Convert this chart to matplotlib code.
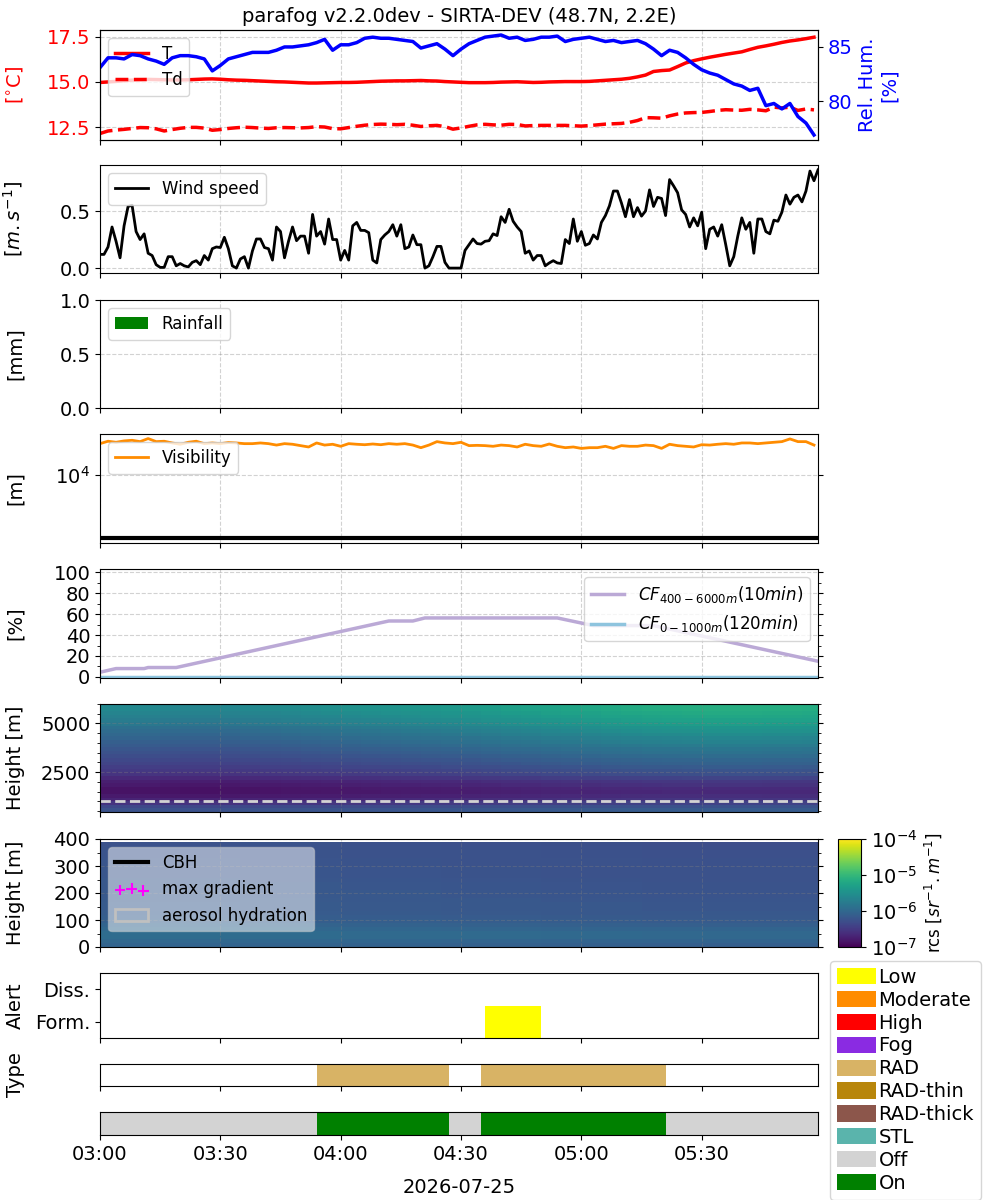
import numpy as np
import pandas as pd
import matplotlib
matplotlib.use("Agg")
import matplotlib.pyplot as plt
import matplotlib.dates as mdates
from matplotlib.colors import LogNorm
from matplotlib.patches import Patch
from matplotlib.ticker import MultipleLocator, NullLocator

# ---------------------------------------------------------------- data
day = "2026-07-25"
start = pd.Timestamp(day + " 03:00")

# 2-min sampled station data
temp = [14.97, 15.0, 15.03, 15.07, 15.1, 15.12, 15.14, 15.13, 15.12, 15.11,
        15.11, 15.12, 15.14, 15.16, 15.17, 15.15, 15.12, 15.1, 15.09, 15.07,
        15.05, 15.03, 15.01, 15.0, 14.98, 14.96, 14.94, 14.94, 14.95, 14.96,
        14.97, 14.97, 14.98, 15.0, 15.02, 15.04, 15.05, 15.06, 15.06, 15.07,
        15.08, 15.06, 15.05, 15.02, 15.0, 14.98, 14.96, 14.96, 14.96, 14.97,
        14.99, 15.0, 15.01, 14.99, 14.97, 14.98, 15.0, 15.01, 15.02, 15.02,
        15.02, 15.03, 15.06, 15.09, 15.12, 15.15, 15.2, 15.28, 15.38, 15.58,
        15.63, 15.66, 15.85, 16.05, 16.18, 16.28, 16.37, 16.45, 16.53, 16.6,
        16.67, 16.8, 16.92, 17.0, 17.09, 17.19, 17.27, 17.33, 17.4, 17.48]
dewp = [12.14, 12.28, 12.33, 12.37, 12.42, 12.47, 12.46, 12.4, 12.28, 12.36,
        12.43, 12.48, 12.48, 12.44, 12.32, 12.36, 12.42, 12.46, 12.49, 12.47,
        12.44, 12.42, 12.46, 12.47, 12.46, 12.45, 12.47, 12.52, 12.5, 12.41,
        12.4, 12.47, 12.54, 12.6, 12.64, 12.66, 12.65, 12.63, 12.65, 12.6,
        12.53, 12.57, 12.59, 12.52, 12.38, 12.45, 12.54, 12.62, 12.65, 12.62,
        12.6, 12.65, 12.64, 12.56, 12.58, 12.59, 12.59, 12.59, 12.59, 12.57,
        12.55, 12.58, 12.62, 12.66, 12.68, 12.7, 12.76, 12.86, 13.02, 13.01,
        12.99, 13.12, 13.22, 13.28, 13.3, 13.31, 13.36, 13.42, 13.46, 13.44,
        13.43, 13.48, 13.45, 13.4, 13.6, 13.56, 13.6, 13.42, 13.5, 13.45]
rh = [83.1, 84.0, 84.0, 83.9, 84.3, 84.2, 83.9, 83.7, 83.4, 84.0,
      84.2, 84.2, 84.1, 83.9, 82.8, 83.3, 83.9, 84.1, 84.3, 84.5,
      84.5, 84.5, 84.7, 85.0, 85.0, 85.1, 85.2, 85.4, 85.7, 84.7,
      85.2, 85.2, 85.4, 85.8, 85.9, 85.8, 85.8, 85.7, 85.6, 85.5,
      84.9, 85.1, 85.3, 84.8, 84.2, 84.8, 85.3, 85.6, 85.9, 86.0,
      86.1, 85.8, 85.9, 85.6, 85.7, 85.9, 85.9, 86.0, 85.5, 85.7,
      85.8, 85.9, 85.7, 85.5, 85.6, 85.4, 85.5, 85.6, 85.3, 84.8,
      84.2, 84.7, 84.5, 84.0, 83.4, 82.9, 82.6, 82.4, 82.0, 81.6,
      81.4, 81.0, 81.2, 79.6, 79.8, 79.3, 79.8, 78.6, 78.0, 76.9]
visibility = [31400, 34300, 33000, 34700, 35500, 33800, 37800, 33800, 34300, 32200,
              30700, 33000, 34300, 31400, 32200, 31400, 32700, 32200, 31400, 31400,
              32200, 31400, 29800, 31400, 30700, 29200, 27800, 32200, 29800, 30700,
              28500, 31400, 30700, 30200, 31000, 30200, 31400, 30700, 31400, 29800,
              27100, 29800, 33800, 32200, 31400, 33000, 29200, 29500, 29200, 28500,
              29800, 29200, 27800, 30700, 29200, 28500, 31000, 28500, 27100, 27800,
              26400, 27100, 27100, 28500, 26400, 29200, 28500, 28500, 29800, 29200,
              26400, 30700, 29200, 28500, 27800, 30200, 29800, 30700, 31400, 30700,
              32200, 32200, 31400, 32200, 33000, 33800, 37300, 33800, 33800, 29800]
vis_threshold = 1000

# 1-min wind speed
wind = [0.12, 0.12, 0.185, 0.36, 0.235, 0.09, 0.37, 0.54, 0.55, 0.32,
        0.25, 0.30, 0.13, 0.11, 0.03, 0.006, 0.006, 0.10, 0.10, 0.02,
        0.04, 0.02, 0.01, 0.05, 0.065, 0.03, 0.11, 0.07, 0.17, 0.185,
        0.18, 0.27, 0.17, 0.02, 0.0, 0.08, 0.10, 0.0, 0.15, 0.255,
        0.255, 0.18, 0.17, 0.07, 0.36, 0.32, 0.09, 0.235, 0.36, 0.24,
        0.28, 0.28, 0.13, 0.47, 0.28, 0.32, 0.21, 0.43, 0.25, 0.25,
        0.07, 0.155, 0.07, 0.37, 0.40, 0.33, 0.33, 0.31, 0.07, 0.045,
        0.25, 0.29, 0.32, 0.38, 0.28, 0.38, 0.17, 0.185, 0.29, 0.205,
        0.205, 0.0, 0.02, 0.10, 0.19, 0.19, 0.05, 0.0, 0.0, 0.0,
        0.0, 0.155, 0.205, 0.255, 0.215, 0.21, 0.235, 0.24, 0.30, 0.285,
        0.45, 0.40, 0.515, 0.41, 0.36, 0.32, 0.13, 0.15, 0.07, 0.11,
        0.11, 0.02, 0.045, 0.065, 0.045, 0.04, 0.25, 0.215, 0.43, 0.235,
        0.32, 0.20, 0.215, 0.29, 0.255, 0.40, 0.46, 0.545, 0.675, 0.675,
        0.57, 0.45, 0.60, 0.45, 0.53, 0.455, 0.50, 0.685, 0.54, 0.62,
        0.61, 0.46, 0.775, 0.72, 0.66, 0.51, 0.47, 0.36, 0.44, 0.37,
        0.49, 0.17, 0.34, 0.36, 0.28, 0.38, 0.205, 0.02, 0.10, 0.28,
        0.44, 0.34, 0.40, 0.13, 0.43, 0.43, 0.32, 0.30, 0.42, 0.41,
        0.49, 0.64, 0.56, 0.62, 0.64, 0.58, 0.675, 0.85, 0.765, 0.86]
rainfall = [0.0] * len(wind)

# cloud fraction
cf_times = ["03:00", "03:04", "03:11", "03:12", "03:19", "04:12",
            "04:18", "04:21", "04:54", "05:03", "05:18", "05:59"]
cf_high = [4.5, 8, 8, 9, 9, 53.4, 53.4, 56.3, 56.3, 49, 49, 15]
cf_low = [0, 0, 0, 0, 0, 0, 0, 0, 0, 0, 0, 0]

# ceilometer rcs, log10 values: height profile + time trend (5-min columns)
hi_bottom, hi_top, hi_step = 450, 6000, 185
hi_profile = [-6.25, -6.35, -6.55, -6.7, -6.8, -6.85, -6.85, -6.8, -6.75, -6.65,
              -6.55, -6.5, -6.45, -6.4, -6.35, -6.3, -6.25, -6.2, -6.15, -6.1,
              -6.05, -6.0, -5.95, -5.9, -5.8, -5.75, -5.7, -5.65, -5.6, -5.6]
hi_weight = [0.2, 0.2, 0.3, 0.35, 0.4, 0.4, 0.45, 0.5, 0.5, 0.55,
             0.6, 0.6, 0.65, 0.7, 0.7, 0.75, 0.8, 0.8, 0.85, 0.9,
             0.9, 0.95, 1, 1, 1, 1, 1, 1, 1, 1]
hi_trend = [0.0, 0.0, 0.0, -0.02, -0.03, -0.03, -0.02, 0.0, 0.02, 0.04,
            0.06, 0.08, 0.1, 0.12, 0.14, 0.16, 0.18, 0.2, 0.22, 0.25,
            0.28, 0.3, 0.33, 0.35, 0.37, 0.4, 0.42, 0.44, 0.45, 0.46,
            0.47, 0.47, 0.47, 0.46, 0.46, 0.45]
lo_top, lo_step = 390, 15
lo_profile = [-6.05, -6.0, -5.95, -5.95, -6.0, -6.05, -6.1, -6.12, -6.14, -6.15,
              -6.15, -6.16, -6.17, -6.17, -6.18, -6.18, -6.19, -6.2, -6.2, -6.2,
              -6.21, -6.21, -6.22, -6.22, -6.23, -6.24]
lo_trend = [0.0, 0.0, 0.0, 0.0, 0.0, 0.0, 0.0, -0.01, -0.01, -0.01,
            -0.01, -0.01, -0.02, -0.02, -0.02, -0.02, -0.02, -0.03, -0.03, -0.03,
            -0.03, -0.03, -0.04, -0.04, -0.04, -0.04, -0.04, -0.05, -0.05, -0.05,
            -0.05, -0.05, -0.05, -0.05, -0.05, -0.05]
cf_low_top = 1000

# alerts / fog type / state
alert_spans = [("04:36", "04:50", "Low", 0)]
type_spans = [("03:54", "04:27", "RAD"), ("04:35", "05:21", "RAD")]
state_spans = [("03:00", "03:54", "Off"), ("03:54", "04:27", "On"),
               ("04:27", "04:35", "Off"), ("04:35", "05:21", "On"),
               ("05:21", "05:59", "Off")]

status_names = ["Low", "Moderate", "High", "Fog", "RAD", "RAD-thin",
                "RAD-thick", "STL", "Off", "On"]
status_colors = ["yellow", "darkorange", "red", "blueviolet", "#d8b365",
                 "darkgoldenrod", "#8c564b", "#5ab4ac", "lightgrey", "green"]
color_of = dict(zip(status_names, status_colors))

# ---------------------------------------------------------------- helpers
def at(hhmm):
    return mdates.date2num(pd.Timestamp(day + " " + hhmm).to_pydatetime())

t2 = pd.date_range(start, periods=len(rh), freq="2min").to_pydatetime()
t1 = pd.date_range(start, periods=len(wind), freq="1min").to_pydatetime()
t_cf = [pd.Timestamp(day + " " + s).to_pydatetime() for s in cf_times]
x_edges = mdates.date2num(pd.date_range(start, periods=len(hi_trend) + 1,
                                        freq="5min").to_pydatetime())

plt.rcParams["font.size"] = 14
plt.rcParams["axes.labelsize"] = 14
plt.rcParams["xtick.labelsize"] = 14
plt.rcParams["ytick.labelsize"] = 14

W, H = 1000, 1200
fig = plt.figure(figsize=(10, 12), dpi=100)

rows = [(30, 140), (165, 273), (300, 408), (434, 543), (569, 678),
        (704, 812), (839, 947), (973, 1038), (1064, 1086), (1112, 1135)]
axes = []
for i, (top, bot) in enumerate(rows):
    rect = [100 / W, 1 - bot / H, 718 / W, (bot - top) / H]
    ax = fig.add_axes(rect, sharex=axes[0] if axes else None)
    axes.append(ax)
ax_t, ax_w, ax_r, ax_v, ax_cf, ax_hi, ax_lo, ax_al, ax_ty, ax_st = axes

grid_kw = dict(linestyle="--", color="grey", alpha=0.35, linewidth=0.8)

# T / Td / RH
ax_t.plot(t2, temp, color="red", lw=2.5, label="T")
ax_t.plot(t2, dewp, color="red", lw=2.5, ls="--", label="Td")
ax_t.set_ylim(11.78, 17.88)
ax_t.set_ylabel(r"[$^{\circ}$C]", color="red")
ax_t.tick_params(axis="y", labelcolor="red")
ax_t.legend(loc="upper left", fontsize=12)
ax_t.set_title("parafog v2.2.0dev - SIRTA-DEV (48.7N, 2.2E)", fontsize=14)
ax_rh = ax_t.twinx()
ax_rh.plot(t2, rh, color="blue", lw=2.5)
ax_rh.set_ylabel("Rel. Hum.\n[%]", color="blue")
ax_rh.tick_params(axis="y", labelcolor="blue")

# wind
ax_w.plot(t1, wind, color="black", lw=2, label="Wind speed")
ax_w.set_ylabel(r"[$m.s^{-1}$]")
ax_w.legend(loc="upper left", fontsize=12)

# rain
ax_r.bar(t1, rainfall, width=1 / 1440, color="green", label="Rainfall")
ax_r.set_ylim(0, 1)
ax_r.set_ylabel("[mm]")
ax_r.legend(loc="upper left", fontsize=12)

# visibility
ax_v.plot(t2, visibility, color="darkorange", lw=2, label="Visibility")
ax_v.axhline(vis_threshold, color="black", lw=3)
ax_v.set_yscale("log")
ax_v.set_ylim(10 ** 2.92, 10 ** 4.65)
ax_v.set_yticks([1e4])
ax_v.yaxis.set_minor_locator(NullLocator())
ax_v.set_ylabel("[m]")
ax_v.legend(loc="upper left", fontsize=12)

# cloud fraction
ax_cf.plot(t_cf, cf_high, color="#bba9d6", lw=2.5,
           label=r"$CF_{400-6000m}(10min)$")
ax_cf.plot(t_cf, cf_low, color="#8ec4de", lw=2.5,
           label=r"$CF_{0-1000m}(120min)$")
ax_cf.set_ylim(-1, 103)
ax_cf.set_yticks([0, 20, 40, 60, 80, 100])
ax_cf.yaxis.set_minor_locator(MultipleLocator(10))
ax_cf.set_ylabel("[%]")
ax_cf.legend(loc="upper right", fontsize=12)

# rcs fields
norm = LogNorm(1e-7, 1e-4)
hi_log = (np.array(hi_profile)[:, None]
          + np.array(hi_weight)[:, None] * np.array(hi_trend)[None, :])
hi_edges = np.arange(hi_bottom, hi_top + 1, hi_step)
mesh = ax_hi.pcolormesh(x_edges, hi_edges, 10 ** hi_log, cmap="viridis", norm=norm)
ax_hi.axhline(cf_low_top, color="lightgrey", ls="--", lw=2)
ax_hi.set_ylim(hi_bottom, hi_top)
ax_hi.set_yticks([2500, 5000])
ax_hi.yaxis.set_minor_locator(MultipleLocator(500))
ax_hi.set_ylabel("Height [m]")

lo_log = np.array(lo_profile)[:, None] + np.array(lo_trend)[None, :]
lo_edges = np.arange(0, lo_top + 1, lo_step)
ax_lo.pcolormesh(x_edges, lo_edges, 10 ** lo_log, cmap="viridis", norm=norm)
ax_lo.plot([], [], color="black", lw=3, label="CBH")
ax_lo.scatter([], [], marker="+", s=60, color="magenta", label="max gradient")
lo_handles, lo_labels = ax_lo.get_legend_handles_labels()
lo_handles.append(Patch(facecolor="none", edgecolor="silver", lw=2))
lo_labels.append("aerosol hydration")
ax_lo.set_ylim(0, 400)
ax_lo.yaxis.set_major_locator(MultipleLocator(100))
ax_lo.yaxis.set_minor_locator(MultipleLocator(50))
ax_lo.set_ylabel("Height [m]")
ax_lo.legend(lo_handles, lo_labels, loc="upper left", fontsize=12,
             framealpha=0.5, scatterpoints=3)

cax = fig.add_axes([838 / W, 1 - 947 / H, 23 / W, 108 / H])
cb = fig.colorbar(mesh, cax=cax, ticks=[1e-7, 1e-6, 1e-5, 1e-4])
cb.ax.yaxis.set_minor_locator(NullLocator())
cb.set_label(r"rcs [$sr^{-1}.m^{-1}$]", fontsize=12)

# alert
for s, e, level, kind in alert_spans:
    ax_al.broken_barh([(at(s), at(e) - at(s))], (kind - 0.5, 1),
                      facecolors=color_of[level])
ax_al.set_ylim(-0.5, 1.5)
ax_al.set_yticks([0, 1])
ax_al.set_yticklabels(["Form.", "Diss."])
ax_al.set_ylabel("Alert")

# type
for s, e, kind in type_spans:
    ax_ty.broken_barh([(at(s), at(e) - at(s))], (0, 1), facecolors=color_of[kind])
ax_ty.set_ylim(0, 1)
ax_ty.set_yticks([])
ax_ty.set_ylabel("Type")

# on / off
for s, e, state in state_spans:
    ax_st.broken_barh([(at(s), at(e) - at(s))], (0, 1), facecolors=color_of[state])
ax_st.set_ylim(0, 1)
ax_st.set_yticks([])

# shared x axis
for ax in axes:
    ax.xaxis.set_major_locator(mdates.MinuteLocator(byminute=[0, 30]))
    ax.xaxis.set_major_formatter(mdates.DateFormatter("%H:%M"))
    ax.yaxis.set_label_coords(-0.105, 0.5)
    if ax is not ax_st:
        ax.tick_params(labelbottom=False)
for ax in axes[:7]:
    ax.grid(True, **grid_kw)
for ax in (ax_v, ax_cf, ax_hi, ax_lo):
    ax.tick_params(axis="y", which="both", right=True)
ax_st.set_xlim(t1[0], t1[-1])
ax_st.set_xlabel(day, labelpad=10)

handles = [Patch(facecolor=c, label=n) for n, c in zip(status_names, status_colors)]
fig.legend(handles=handles, loc="upper left", bbox_to_anchor=(830 / W, 1 - 961 / H),
           borderaxespad=0, fontsize=14, labelspacing=0.2, handleheight=0.9,
           handletextpad=0.15, borderpad=0.35)

fig.savefig("out.png", dpi=100)
